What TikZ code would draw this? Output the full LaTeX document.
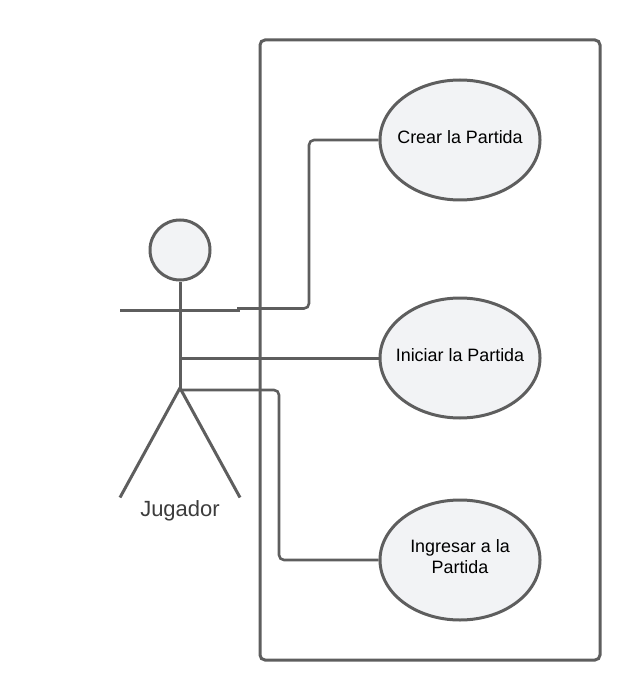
\documentclass[tikz,border=0pt]{standalone}
\usepackage{fontspec}
\setmainfont{Liberation Sans}
\usetikzlibrary{shapes.geometric}
\definecolor{ln}{HTML}{5E5E5E}
\definecolor{fl}{HTML}{F2F3F5}
\tikzset{
  usecase/.style={draw=ln,line width=3pt,fill=fl,ellipse,minimum width=160pt,minimum height=120pt,inner sep=0pt},
  caselabel/.style={align=center,inner sep=0pt,font=\fontsize{17.9}{21}\selectfont,text=black},
  limb/.style={draw=ln,line width=3pt},
  conn/.style={draw=ln,line width=2.6pt,rounded corners=5pt},
}
\begin{document}
\begin{tikzpicture}[x=1pt,y=-1pt]
\useasboundingbox (0,0) rectangle (640,700);
\node[draw=ln,line width=3pt,rounded corners=5pt,minimum width=340pt,minimum height=620pt,inner sep=0pt] (sys) at (430,350) {};
\node[usecase] (crear) at (460,140) {};
\node[usecase] (iniciar) at (460,358) {};
\node[usecase] (ingresar) at (460,560) {};
\node[caselabel] (crearT) at (460,137) {Crear la Partida};
\node[caselabel] (iniciarT) at (460,355) {Iniciar la Partida};
\node[caselabel] (ingresarT) at (460,557) {Ingresar a la\\Partida};
\node[circle,draw=ln,line width=3pt,fill=fl,minimum size=60pt,inner sep=0pt] (head) at (180,250) {};
\coordinate (hip) at (180,388);
\coordinate (armL) at (120,310);
\coordinate (armR) at (240,310);
\coordinate (legL) at (120,497.5);
\coordinate (legR) at (240,497.5);
\coordinate (c1) at (237,308.5);
\coordinate (c2) at (180,358.7);
\coordinate (c2e) at (iniciar.west |- c2);
\coordinate (c3) at (180,390);
\draw[limb] (head.south) -- (hip);
\draw[limb] (armL) -- (armR);
\draw[limb,line join=round] (legL) -- (hip) -- (legR);
\draw[conn] (c1) -- (309,308.5) -- (309,140) -- (crear.west);
\draw[conn] (c2) -- (c2e);
\draw[conn] (c3) -- (279,390) -- (279,560) -- (ingresar.west);
\node[font=\fontsize{22}{24}\selectfont,text={rgb,255:red,60;green,60;blue,60}] (jug) at (180,510.5) {Jugador};
\end{tikzpicture}
\end{document}
